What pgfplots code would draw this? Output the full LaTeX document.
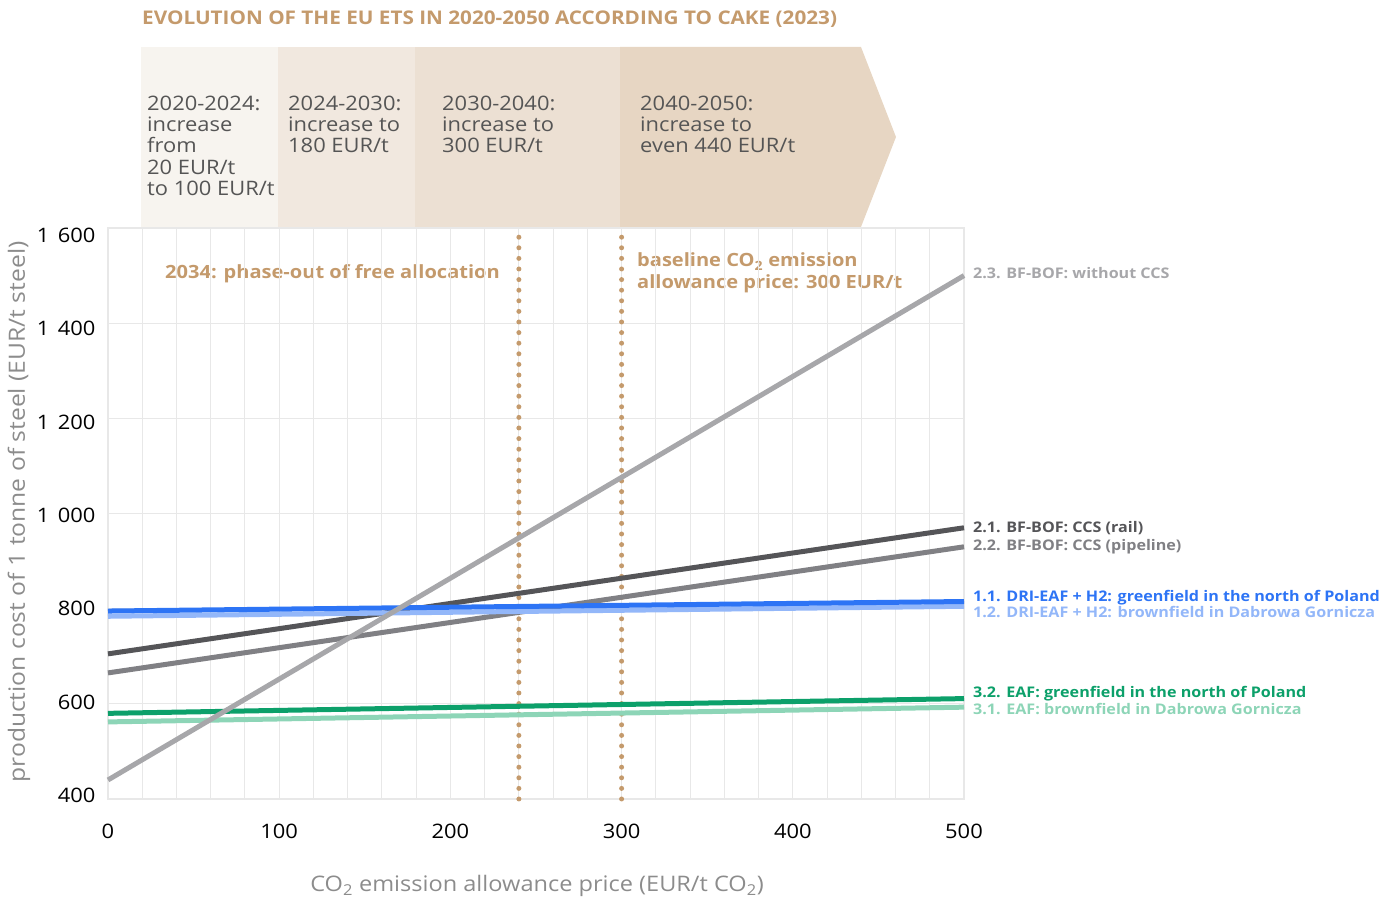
\documentclass[border=0pt]{standalone}
\usepackage{fontspec}
\setmainfont{Open Sans}[FakeStretch=1.1]
\usepackage{pgfplots}
\pgfplotsset{compat=1.18}

\definecolor{tan}{HTML}{C49A6C}
\definecolor{bannerA}{HTML}{F7F4EF}
\definecolor{bannerB}{HTML}{F1E8DF}
\definecolor{bannerC}{HTML}{ECE0D3}
\definecolor{bannerD}{HTML}{E7D6C3}
\definecolor{boxtext}{HTML}{555555}
\definecolor{axlabel}{HTML}{8C8C8C}
\definecolor{gridc}{HTML}{E8E8E8}
\definecolor{cNoCCS}{HTML}{A7A7AA}
\definecolor{cRail}{HTML}{555558}
\definecolor{cPipe}{HTML}{808084}
\definecolor{cDriG}{HTML}{2D74F5}
\definecolor{cDriB}{HTML}{93B7F9}
\definecolor{cEafG}{HTML}{0CA06A}
\definecolor{cEafB}{HTML}{8DD5B7}

\newcommand{\fs}[1]{\fontsize{#1}{1.15\dimexpr #1pt\relax}\selectfont}
\newcommand{\thsp}{\hspace{0.42em}}
% y tick label nudged vertically, box size unchanged
\newcommand{\yl}[2]{\raisebox{#1}[\height][\depth]{#2}}

\begin{document}
\begin{tikzpicture}
\useasboundingbox (0,0) rectangle (1399bp,902bp);

% banner and free-standing labels, positioned from the top-left corner
\begin{scope}[yshift=902bp, x=1bp, y=-1bp]
  \fill[bannerA] (141,47) rectangle (278,227);
  \fill[bannerB] (278,47) rectangle (415,227);
  \fill[bannerC] (415,47) rectangle (620,227);
  \fill[bannerD] (620,47) -- (861,47) -- (896,137) -- (861,227) -- (620,227) -- cycle;

  \node[anchor=base west, text=tan, font=\fs{18.9}\bfseries, inner sep=0pt] at (142,25)
    {EVOLUTION OF THE EU ETS IN 2020-2050 ACCORDING TO CAKE (2023)};

  \tikzset{bt/.style={anchor=base west, text=boxtext, font=\fs{20}, inner sep=0pt}}
  % period boxes, one node per line
  \node[bt] at (147,110.5) {2020-2024:};
  \node[bt] at (147,131.7) {increase};
  \node[bt] at (147,152.9) {from};
  \node[bt] at (147,174.1) {20 EUR/t};
  \node[bt] at (147,195.3) {to 100 EUR/t};
  \node[bt] at (288,110.5) {2024-2030:};
  \node[bt] at (288,131.7) {increase to};
  \node[bt] at (288,152.9) {180 EUR/t};
  \node[bt] at (442,110.5) {2030-2040:};
  \node[bt] at (442,131.7) {increase to};
  \node[bt] at (442,152.9) {300 EUR/t};
  \node[bt] at (640,110.5) {2040-2050:};
  \node[bt] at (640,131.7) {increase to};
  \node[bt] at (640,152.9) {even 440 EUR/t};

  \tikzset{ann/.style={anchor=base west, text=tan, font=\fs{18.3}\bfseries, inner sep=0pt}}
  \node[ann] at (165,278.3) {2034: phase-out of free allocation};
  \node[ann] at (637,266.7) {baseline CO\textsubscript{2} emission};
  \node[ann] at (637,288.3) {allowance price: 300 EUR/t};

  \tikzset{lab/.style={anchor=base west, font=\fs{14.7}\bfseries, inner sep=0pt}}
  \node[lab, text=cNoCCS] at (973,278.5) {2.3. BF-BOF: without CCS};
  \node[lab, text=cRail]  at (973,532.3) {2.1. BF-BOF: CCS (rail)};
  \node[lab, text=cPipe]  at (973,550.3) {2.2. BF-BOF: CCS (pipeline)};
  \node[lab, text=cDriG]  at (973,601.5) {1.1. DRI-EAF + H2: greenfield in the north of Poland};
  \node[lab, text=cDriB]  at (973,617.5) {1.2. DRI-EAF + H2: brownfield in Dabrowa Gornicza};
  \node[lab, text=cEafG]  at (973,697.5) {3.2. EAF: greenfield in the north of Poland};
  \node[lab, text=cEafB]  at (973,714.3) {3.1. EAF: brownfield in Dabrowa Gornicza};

  \node[text=axlabel, font=\fs{21.5}, inner sep=0pt] at (537,886)
    {CO\textsubscript{2} emission allowance price (EUR/t CO\textsubscript{2})};
  \node[text=axlabel, font=\fs{22.5}, inner sep=0pt, rotate=90] at (19,512)
    {production cost of 1 tonne of steel (EUR/t steel)};
\end{scope}

\begin{axis}[
  at={(108bp,103bp)}, anchor=south west,
  scale only axis, width=856bp, height=571bp,
  xmin=0, xmax=500, ymin=400, ymax=1600,
  xtick={0,100,...,500}, minor x tick num=4,
  ytick={400,600,...,1600},
  yticklabels={\yl{3.4bp}{400},\yl{1.6bp}{600},\yl{-0.1bp}{800},
    \yl{-1.9bp}{1\thsp000},\yl{-3.6bp}{1\thsp200},\yl{-5.4bp}{1\thsp400},
    \yl{-7.1bp}{1\thsp600}},
  grid=both,
  major grid style={draw=gridc, line width=1bp},
  minor grid style={draw=gridc, line width=1bp},
  axis line style={draw=gridc, line width=1.2bp},
  tick style={draw=none},
  /pgf/number format/assume math mode=true,
  xticklabel style={font=\fs{20}, text=black, yshift=-22bp},
  yticklabel style={font=\fs{20}, text=black, xshift=-9bp},
  clip=false,
]
  % reference prices
  \addplot[tan, line width=5bp, line cap=round, dash pattern=on 0pt off 10.6bp]
    coordinates {(240,400) (240,1600)};
  \addplot[tan, line width=5bp, line cap=round, dash pattern=on 0pt off 10.6bp]
    coordinates {(300,400) (300,1600)};

  % production cost lines
  \addplot[cPipe, line width=5bp] coordinates {(0,665) (500,930)};
  \addplot[cRail, line width=5bp] coordinates {(0,705) (500,970)};
  \addplot[cDriB, line width=5bp] coordinates {(0,784) (500,805)};
  \addplot[cDriG, line width=5bp] coordinates {(0,795) (500,815)};
  \addplot[cEafB, line width=5bp] coordinates {(0,562) (500,593)};
  \addplot[cEafG, line width=5bp] coordinates {(0,580) (500,611)};
  \addplot[cNoCCS, line width=5bp] coordinates {(0,440) (500,1500)};
\end{axis}
\end{tikzpicture}
\end{document}
